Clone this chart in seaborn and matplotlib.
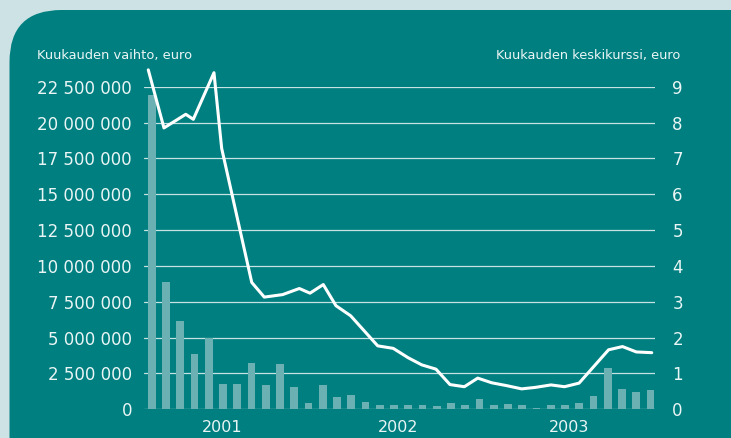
import numpy as np
import pandas as pd
import matplotlib
matplotlib.use("Agg")
import matplotlib.pyplot as plt
import matplotlib.transforms as mtransforms
from matplotlib.patches import FancyBboxPatch
from matplotlib.ticker import FixedLocator, FuncFormatter
import seaborn as sns

# monthly turnover (bars), euro
months = list(pd.date_range("2001-01", periods=36, freq="MS").strftime("%Y-%m"))
volume = [21950000, 8880000, 6180000, 3860000, 4990000, 1760000, 1760000, 3230000,
          1690000, 3160000, 1560000, 440000, 1690000, 860000, 1000000, 510000,
          300000, 300000, 300000, 300000, 230000, 440000, 300000, 720000,
          300000, 370000, 300000, 90000, 300000, 300000, 440000, 930000,
          2880000, 1420000, 1210000, 1350000]

# monthly average price (line), euro - positions in month index units
price_pos = [-0.24, 0.86, 2.39, 2.92, 4.37, 4.91, 7.02, 7.90, 9.19, 10.36, 11.11,
             12.04, 12.93, 13.96, 15.86, 16.95, 17.99, 18.95, 19.95, 20.93, 21.94,
             22.88, 23.86, 24.91, 25.96, 26.90, 28.02, 28.97, 29.99, 32.06, 33.04,
             34.01, 35.09]
price = [9.47, 7.85, 8.23, 8.09, 9.39, 7.28, 3.54, 3.13, 3.20, 3.37, 3.24,
         3.48, 2.89, 2.61, 1.77, 1.70, 1.44, 1.24, 1.12, 0.69, 0.63,
         0.87, 0.74, 0.66, 0.57, 0.61, 0.68, 0.63, 0.73, 1.66, 1.75,
         1.60, 1.58]

years = ["2001", "2002", "2003"]
year_pos = [4.98, 17.3, 29.26]
year_sep = [10.5, 23.5]

left_ticks = np.arange(0, 22500001, 2500000)
right_ticks = np.arange(0, 10, 1)

teal = "#007f80"
bar_col = "#6bb1b4"
txt = "#eaf5f5"
grid_col = "#c6e2e2"

sns.set_style("white")
plt.rcParams["font.family"] = ["DejaVu Sans"]

fig = plt.figure(figsize=(7.31, 4.38), dpi=100)
fig.patch.set_facecolor("#cde2e4")

# teal panel with rounded top-left corner
panel = FancyBboxPatch((9.5, -60), 800, 488, boxstyle="round,pad=0,rounding_size=52",
                       transform=mtransforms.IdentityTransform(),
                       facecolor=teal, edgecolor="none", zorder=-5)
fig.add_artist(panel)

ax = fig.add_axes([144 / 731, 1 - 409.3 / 438, (655 - 144) / 731, (409.3 - 86.7) / 438])
ax.patch.set_visible(False)

df = pd.DataFrame({"month": months, "volume": volume})
sns.barplot(data=df, x="month", y="volume", color=bar_col, width=0.55,
            saturation=1, linewidth=0, edgecolor="none", ax=ax, zorder=2)

ax.set_xlim((144 - 151.7) / 14.25, (655 - 151.7) / 14.25)
ax.set_ylim(0, 22500000)
ax.yaxis.set_major_locator(FixedLocator(left_ticks))
ax.yaxis.set_major_formatter(FuncFormatter(lambda v, p: f"{int(v):,}".replace(",", " ")))
ax.grid(axis="y", color=grid_col, lw=0.9)
ax.grid(axis="x", visible=False)
ax.set_axisbelow(True)
ax.tick_params(axis="y", length=0, pad=8.6, labelsize=12, colors=txt)
ax.set_xlabel("")
ax.set_ylabel("")

# year separators and year labels
ax.xaxis.set_major_locator(FixedLocator(year_sep))
ax.xaxis.set_major_formatter(FuncFormatter(lambda v, p: ""))
ax.xaxis.set_minor_locator(FixedLocator(year_pos))
ax.set_xticklabels(years, minor=True)
ax.tick_params(axis="x", which="major", direction="inout", length=8, width=1, color=txt)
ax.tick_params(axis="x", which="minor", length=0, pad=8, labelsize=11.5, labelcolor=txt)
for s in ax.spines.values():
    s.set_visible(False)

ax2 = ax.twinx()
sns.lineplot(x=price_pos, y=price, sort=False, color="white", lw=2.2, ax=ax2)
ax2.lines[0].set_clip_on(False)
ax2.set_ylim(0, 9)
ax2.yaxis.set_major_locator(FixedLocator(right_ticks))
ax2.tick_params(axis="y", length=0, pad=12.5, labelsize=12, colors=txt)
ax2.grid(False)
for s in ax2.spines.values():
    s.set_visible(False)

fig.text(36.7 / 731, 1 - 55 / 438, "Kuukauden vaihto, euro", color=txt,
         fontsize=9.4, ha="left", va="center")
fig.text(680 / 731, 1 - 55 / 438, "Kuukauden keskikurssi, euro", color=txt,
         fontsize=9.3, ha="right", va="center")

fig.savefig("out.png", dpi=100, facecolor=fig.get_facecolor())
